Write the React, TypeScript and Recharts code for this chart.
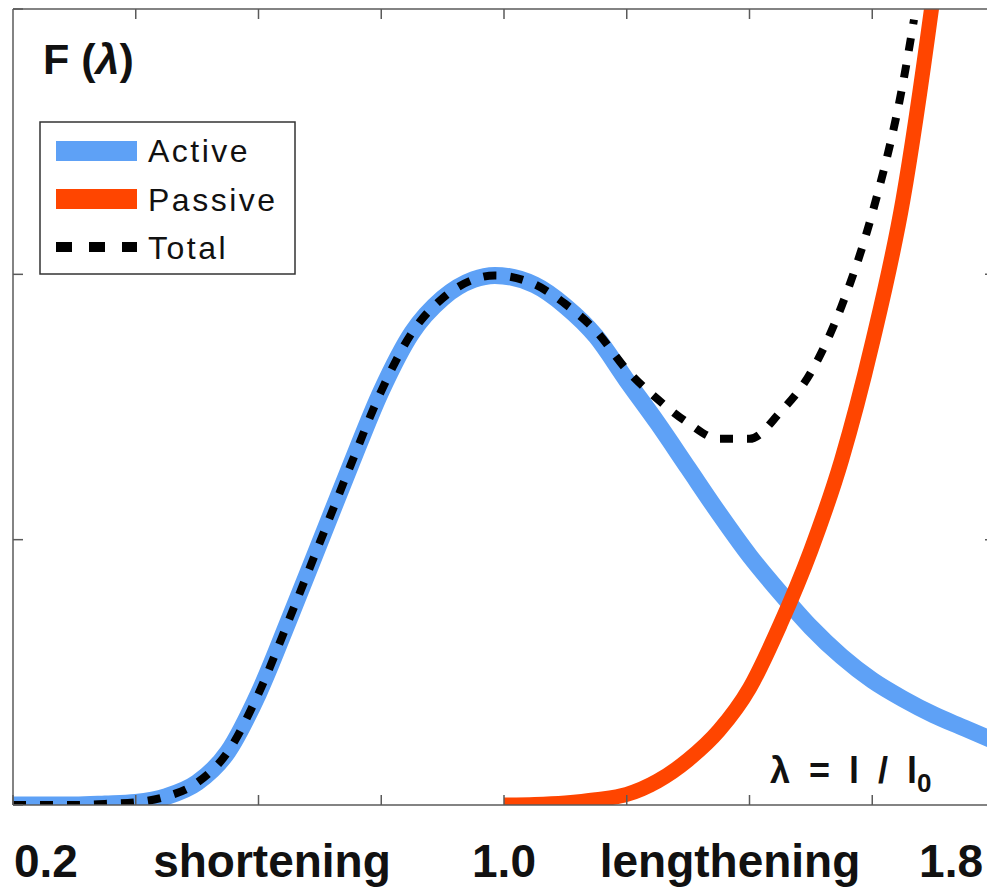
import { LineChart, Line, XAxis, YAxis, Legend } from 'recharts';

// lambda = l / l0 sample points
const activeLambda = [0.2, 0.3, 0.35, 0.4, 0.45, 0.5, 0.55, 0.6, 0.65, 0.7, 0.75, 0.8, 0.85, 0.9, 0.95, 0.985, 1.05, 1.1, 1.15, 1.2, 1.25, 1.3, 1.35, 1.4, 1.45, 1.5, 1.55, 1.6, 1.65, 1.7, 1.75, 1.8];
const activeForce = [0, 0, 0.002, 0.005, 0.016, 0.042, 0.1, 0.21, 0.35, 0.495, 0.64, 0.78, 0.89, 0.955, 0.99, 0.998, 0.98, 0.94, 0.883, 0.8, 0.72, 0.635, 0.55, 0.47, 0.4, 0.335, 0.28, 0.235, 0.2, 0.17, 0.145, 0.12];

const passiveLambda = [1.0, 1.05, 1.1, 1.15, 1.2, 1.25, 1.3, 1.35, 1.4, 1.45, 1.5, 1.55, 1.6, 1.65, 1.7, 1.75];
const passiveForce = [0, 0.001, 0.004, 0.01, 0.02, 0.045, 0.085, 0.14, 0.22, 0.34, 0.48, 0.65, 0.87, 1.14, 1.53, 2.0];

const totalLambda = [0.2, 0.3, 0.35, 0.4, 0.45, 0.5, 0.55, 0.6, 0.65, 0.7, 0.75, 0.8, 0.85, 0.9, 0.95, 0.985, 1.05, 1.1, 1.15, 1.2, 1.25, 1.3, 1.35, 1.4, 1.45, 1.5, 1.55, 1.6, 1.65, 1.668];
const totalForce = [0, 0, 0.002, 0.005, 0.016, 0.042, 0.1, 0.21, 0.35, 0.495, 0.64, 0.78, 0.89, 0.955, 0.99, 0.998, 0.981, 0.944, 0.893, 0.82, 0.765, 0.72, 0.69, 0.69, 0.74, 0.815, 0.94, 1.115, 1.36, 1.48];

const xTicks = [0.2, 0.4, 0.6, 0.8, 1.0, 1.2, 1.4, 1.6, 1.8];
const yTicks = [0, 0.5, 1.0, 1.5];
const innerXTicks = [0.4, 0.6, 0.8, 1.0, 1.2, 1.4, 1.6];
const innerYTicks = [0.5, 1.0];

const X_MIN = 0.2;
const X_MAX = 1.8;
const Y_MAX = 1.5;

// plot box (same as the chart margins below)
const PLOT_LEFT = 13;
const PLOT_TOP = 9;
const PLOT_W = 982;
const PLOT_H = 796;
const TICK = 10;

const BLUE = '#5ea1f6';
const ORANGE = '#ff4500';
const FRAME = '#5a5a5a';

const activeData = activeLambda.map((lam, i) => ({ lam, v: activeForce[i] }));
const passiveData = passiveLambda.map((lam, i) => ({ lam, v: passiveForce[i] }));
const totalData = totalLambda.map((lam, i) => ({ lam, v: totalForce[i] }));

const FONT = '"Liberation Sans", Arial, Helvetica, sans-serif';

const noLabel = () => <g />;
const frameLine = { stroke: FRAME, strokeWidth: 1.5 };

const tickX = (t: number) => PLOT_LEFT + ((t - X_MIN) / (X_MAX - X_MIN)) * PLOT_W;
const tickY = (t: number) => PLOT_TOP + (1 - t / Y_MAX) * PLOT_H;

function LegendBox() {
  return (
    <svg width={258} height={155} style={{ display: 'block' }}>
      <rect x={1} y={1} width={255} height={152} fill="#fff" stroke="#333" strokeWidth={1.5} />
      <line x1={17} x2={98} y1={30} y2={30} stroke={BLUE} strokeWidth={20} />
      <line x1={17} x2={98} y1={78} y2={78} stroke={ORANGE} strokeWidth={20} />
      <line x1={17} x2={98} y1={126} y2={126} stroke="#000" strokeWidth={10} strokeDasharray="16 17" />
      <g fontFamily={FONT} fontSize={32} letterSpacing={2.5} fill="#111">
        <text x={109} y={41}>Active</text>
        <text x={109} y={90}>Passive</text>
        <text x={109} y={138}>Total</text>
      </g>
    </svg>
  );
}

export default function App() {
  return (
    <div style={{ position: 'relative', width: 987, height: 891, overflow: 'hidden', background: '#fff' }}>
      <style>{'body { margin: 0; overflow: hidden; }'}</style>
      <LineChart width={1000} height={891} margin={{ top: PLOT_TOP, right: 5, bottom: 86, left: PLOT_LEFT }}>
        <XAxis
          type="number"
          dataKey="lam"
          domain={[X_MIN, X_MAX]}
          ticks={xTicks}
          interval={0}
          allowDataOverflow
          mirror
          height={1}
          tick={noLabel}
          tickSize={TICK}
          axisLine={frameLine}
          tickLine={frameLine}
        />
        <XAxis
          xAxisId="top"
          orientation="top"
          type="number"
          dataKey="lam"
          domain={[X_MIN, X_MAX]}
          ticks={xTicks}
          interval={0}
          allowDataOverflow
          mirror
          height={1}
          tick={noLabel}
          tickLine={false}
          axisLine={frameLine}
        />
        <YAxis
          type="number"
          domain={[0, Y_MAX]}
          ticks={yTicks}
          interval={0}
          allowDataOverflow
          mirror
          width={1}
          tick={noLabel}
          tickSize={TICK}
          axisLine={frameLine}
          tickLine={frameLine}
        />
        <YAxis
          yAxisId="right"
          orientation="right"
          type="number"
          domain={[0, Y_MAX]}
          ticks={yTicks}
          interval={0}
          allowDataOverflow
          mirror
          width={1}
          tick={noLabel}
          tickLine={false}
          axisLine={frameLine}
        />
        <Legend
          layout="vertical"
          align="center"
          verticalAlign="middle"
          content={() => <LegendBox />}
          wrapperStyle={{ left: 39, top: 121, width: 258, height: 155 }}
        />
        <Line
          data={activeData}
          dataKey="v"
          name="Active"
          type="monotone"
          stroke={BLUE}
          strokeWidth={17}
          dot={false}
          activeDot={false}
          isAnimationActive={false}
        />
        <Line
          data={passiveData}
          dataKey="v"
          name="Passive"
          type="monotone"
          stroke={ORANGE}
          strokeWidth={15}
          dot={false}
          activeDot={false}
          isAnimationActive={false}
        />
        <Line
          data={totalData}
          xAxisId="top"
          yAxisId="right"
          dataKey="v"
          name="Total"
          type="monotone"
          stroke="#000"
          strokeWidth={8}
          strokeDasharray="13 14"
          dot={false}
          activeDot={false}
          isAnimationActive={false}
        />
      </LineChart>
      <svg
        width={987}
        height={891}
        style={{ position: 'absolute', left: 0, top: 0, pointerEvents: 'none' }}
      >
        {/* inward ticks on the top and right frame edges */}
        <g stroke={FRAME} strokeWidth={1.5}>
          {innerXTicks.map((t) => (
            <line key={`tx${t}`} x1={tickX(t)} x2={tickX(t)} y1={PLOT_TOP} y2={PLOT_TOP + TICK} />
          ))}
          {innerYTicks.map((t) => (
            <line
              key={`ty${t}`}
              x1={PLOT_LEFT + PLOT_W}
              x2={PLOT_LEFT + PLOT_W - TICK}
              y1={tickY(t)}
              y2={tickY(t)}
            />
          ))}
        </g>
        <g fontFamily={FONT} fontWeight="bold" fill="#111">
          <text x={43} y={74} fontSize={43}>
            F (<tspan fontStyle="italic">λ</tspan>)
          </text>
          <text x={770} y={783} fontSize={36} wordSpacing={9}>
            λ = l / l<tspan fontSize={26} dy={9}>0</tspan>
          </text>
          <g fontSize={46}>
            <text x={14} y={877}>0.2</text>
            <text x={272} y={877} textAnchor="middle">shortening</text>
            <text x={504} y={877} textAnchor="middle">1.0</text>
            <text x={730} y={877} textAnchor="middle">lengthening</text>
            <text x={983} y={877} textAnchor="end">1.8</text>
          </g>
        </g>
      </svg>
    </div>
  );
}
